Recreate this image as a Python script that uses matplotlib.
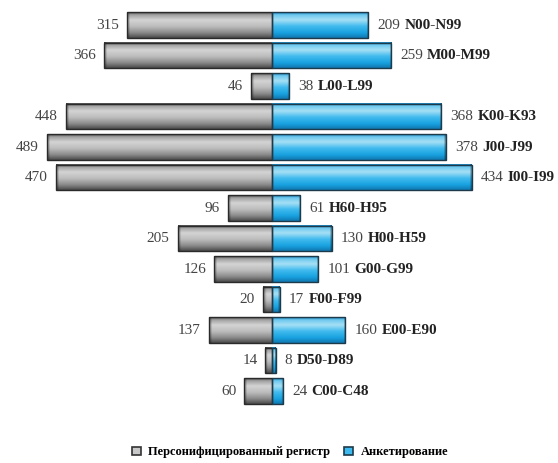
import numpy as np
import matplotlib.pyplot as plt
from matplotlib.patches import Rectangle, Patch
from matplotlib.colors import to_rgb

codes = ["N00-N99", "M00-M99", "L00-L99", "K00-K93", "J00-J99", "I00-I99",
         "H60-H95", "H00-H59", "G00-G99", "F00-F99", "E00-E90", "D50-D89",
         "C00-C48"]
registry = [315, 366, 46, 448, 489, 470, 96, 205, 126, 20, 137, 14, 60]
survey = [209, 259, 38, 368, 378, 434, 61, 130, 101, 17, 160, 8, 24]
legend_labels = ["Персонифицированный регистр", "Анкетирование"]

plt.rcParams['font.family'] = ['Liberation Serif', 'DejaVu Serif']

# vertical shading stops (position from top, colour) for the tube look
grey_stops = [(0.0, "#505050"), (0.1, "#a0a0a0"), (0.3, "#d4d4d4"),
              (0.55, "#bdbdbd"), (0.8, "#8a8a8a"), (1.0, "#4a4a4a")]
cyan_stops = [(0.0, "#1680b8"), (0.1, "#6cc8ee"), (0.3, "#a6e0f6"),
              (0.55, "#40baee"), (0.8, "#18a2e0"), (1.0, "#1078b0")]

XMIN, XMAX = -591, 622
PX_PER_UNIT = 558 / (XMAX - XMIN)


def tube(stops, width, n=64, end_px=4):
    pos = [s[0] for s in stops]
    cols = np.array([to_rgb(s[1]) for s in stops])
    t = np.linspace(0, 1, n)
    col = np.stack([np.interp(t, pos, cols[:, k]) for k in range(3)], axis=-1)
    w = max(int(round(width * PX_PER_UNIT)), 2)
    shade = np.ones(w)
    e = min(end_px, w // 2)
    if e:
        shade[-e:] = np.linspace(1.0, 0.65, e)
    return col[:, None, :] * shade[None, :, None]


fig = plt.figure(figsize=(5.58, 4.63), dpi=100)
ax = fig.add_axes([0, 0, 1, 1])
ax.axis('off')

h = 0.85
for i, (code, left, right) in enumerate(zip(codes, registry, survey)):
    top, bot = i - h / 2, i + h / 2
    # grey image is built from the centre outwards, then flipped
    g = tube(grey_stops, left)[:, ::-1, :]
    c = tube(cyan_stops, right, end_px=3)
    ax.imshow(g, extent=[-left, 0, bot, top], aspect='auto',
              interpolation='bilinear', zorder=2)
    ax.imshow(c, extent=[0, right, bot, top], aspect='auto',
              interpolation='bilinear', zorder=2)
    ax.add_patch(Rectangle((-left, top), left, h, fill=False,
                           edgecolor="#2a2a2a", lw=1.0, zorder=3))
    ax.add_patch(Rectangle((0, top), right, h, fill=False,
                           edgecolor="#1c3a4a", lw=1.0, zorder=3))
    ax.text(-left - 17, i, str(left), ha='right', va='center',
            fontsize=11, color="#444444")
    t = ax.text(right + 20, i, str(right), ha='left', va='center',
                fontsize=11, color="#444444")
    ax.annotate(code, xy=(1, 0), xycoords=t, xytext=(3, 0),
                textcoords='offset points', ha='left', va='bottom',
                fontsize=11, fontweight='bold', color="#222222")

ax.set_xlim(XMIN, XMAX)
ax.set_ylim(14.36, -0.82)

handles = [Patch(facecolor="#c8c8c8", edgecolor="#333333", lw=1.2),
           Patch(facecolor="#3cbaf0", edgecolor="#1c3a4a", lw=1.2)]
fig.legend(handles, legend_labels, loc='center', bbox_to_anchor=(0.52, 0.023),
           ncol=2, frameon=False, handlelength=0.7, handleheight=0.7,
           handletextpad=0.6, columnspacing=1.1,
           prop={'size': 9, 'weight': 'bold'})

fig.savefig("out.png", dpi=100)
